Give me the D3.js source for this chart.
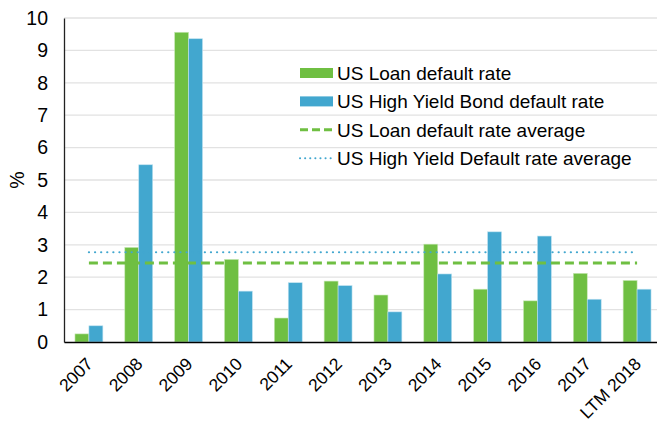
<!DOCTYPE html>
<html>
<head>
<meta charset="utf-8">
<script src="https://cdnjs.cloudflare.com/ajax/libs/d3/7.8.5/d3.min.js"></script>
<style>
    body { margin: 0; background: #fff; }
    svg { display: block; font-family: "Liberation Sans", Arial, sans-serif; }
</style>
</head>
<body>
<div class="graph"></div>
<script>
/* Chart data */
const years = ['2007', '2008', '2009', '2010', '2011', '2012', '2013', '2014', '2015', '2016', '2017', 'LTM 2018'];
const loan_rate = [0.25, 2.92, 9.56, 2.55, 0.74, 1.88, 1.45, 3.02, 1.63, 1.27, 2.12, 1.90];
const hy_rate = [0.50, 5.47, 9.36, 1.57, 1.83, 1.74, 0.93, 2.10, 3.40, 3.27, 1.32, 1.63];
const loan_avg = 2.44;
const hy_avg = 2.77;
const y_ticks = [0, 1, 2, 3, 4, 5, 6, 7, 8, 9, 10];

const legend_labels = [
    'US Loan default rate',
    'US High Yield Bond default rate',
    'US Loan default rate average',
    'US High Yield Default rate average'
];

/* Configuration variables */
const svg_dimensions = { width: 657, height: 425 };
const margin = { top: 18, left: 64, right: -5, bottom: 83 };
const green = '#6fbf42';
const blue = '#42a7cf';

let svg = d3.select('.graph')
    .append('svg')
        .attr('width', svg_dimensions.width)
        .attr('height', svg_dimensions.height);

let x_scale = d3.scaleBand()
    .domain(years)
    .range([margin.left, svg_dimensions.width - margin.right])
    .paddingInner(0.44)
    .paddingOuter(0.22);

let y_scale = d3.scaleLinear()
    .domain([0, 10])
    .range([svg_dimensions.height - margin.bottom, margin.top]);

let sub_scale = d3.scaleBand()
    .domain(['loan', 'hy'])
    .range([0, x_scale.bandwidth()]);

/* Gridlines */
svg.append('g')
    .selectAll('line')
    .data(y_ticks.slice(1)).enter().append('line')
        .attr('x1', margin.left)
        .attr('x2', svg_dimensions.width)
        .attr('y1', (d) => y_scale(d))
        .attr('y2', (d) => y_scale(d))
        .attr('stroke', '#e2e2e2')
        .attr('stroke-width', 1.3);

/* Bars */
let groups = svg.append('g')
    .selectAll('g')
    .data(years).enter().append('g')
        .attr('transform', (d) => 'translate(' + x_scale(d) + ',0)');

groups.append('rect')
    .attr('x', sub_scale('loan'))
    .attr('y', (d, i) => y_scale(loan_rate[i]))
    .attr('width', sub_scale.bandwidth())
    .attr('height', (d, i) => y_scale(0) - y_scale(loan_rate[i]))
    .attr('fill', green)
    .attr('stroke', '#c9e8b8')
    .attr('stroke-width', 0.6);

groups.append('rect')
    .attr('x', sub_scale('hy'))
    .attr('y', (d, i) => y_scale(hy_rate[i]))
    .attr('width', sub_scale.bandwidth())
    .attr('height', (d, i) => y_scale(0) - y_scale(hy_rate[i]))
    .attr('fill', blue)
    .attr('stroke', '#bfe2f0')
    .attr('stroke-width', 0.6);

/* Average lines */
const first_center = x_scale(years[0]) + x_scale.bandwidth() / 2;
const last_center = x_scale(years[years.length - 1]) + x_scale.bandwidth() / 2;

svg.append('line')
    .attr('x1', first_center).attr('x2', last_center)
    .attr('y1', y_scale(hy_avg)).attr('y2', y_scale(hy_avg))
    .attr('stroke', blue)
    .attr('stroke-width', 2.2)
    .attr('stroke-linecap', 'round')
    .attr('stroke-dasharray', '0.1,6');

svg.append('line')
    .attr('x1', first_center).attr('x2', last_center)
    .attr('y1', y_scale(loan_avg)).attr('y2', y_scale(loan_avg))
    .attr('stroke', green)
    .attr('stroke-width', 3)
    .attr('stroke-dasharray', '9,5');

/* Axes */
let y_axis = d3.axisLeft(y_scale).tickValues(y_ticks).tickSize(0).tickPadding(16);
let y_g = svg.append('g')
    .attr('transform', 'translate(' + margin.left + ',0)')
    .call(y_axis);
y_g.select('.domain').attr('stroke', '#222').attr('stroke-width', 1.3);
y_g.selectAll('text').attr('font-size', '19.5px').attr('fill', '#000').attr('font-family', 'Liberation Sans, Arial, sans-serif');

let x_axis = d3.axisBottom(x_scale).tickSize(0).tickPadding(0);
let x_g = svg.append('g')
    .attr('transform', 'translate(0,' + y_scale(0) + ')')
    .call(x_axis);
x_g.select('.domain').attr('stroke', '#000').attr('stroke-width', 1.6);
x_g.selectAll('text')
    .attr('font-size', '17.5px')
    .attr('fill', '#000')
    .attr('font-family', 'Liberation Sans, Arial, sans-serif')
    .attr('text-anchor', 'end')
    .attr('dy', '0')
    .attr('transform', 'translate(5,23) rotate(-45)');

svg.append('text')
    .attr('transform', 'rotate(-90)')
    .attr('x', -y_scale(5))
    .attr('y', 24)
    .attr('text-anchor', 'middle')
    .attr('font-size', '19.5px')
    .text('%');

/* Legend */
let legend = svg.append('g').attr('transform', 'translate(300,73)');
let legend_rows = legend.selectAll('g')
    .data(legend_labels).enter().append('g')
        .attr('transform', (d, i) => 'translate(0,' + (i * 28.4) + ')');

legend_rows.filter((d, i) => i < 2).append('rect')
    .attr('x', 0).attr('y', -5)
    .attr('width', 33).attr('height', 10)
    .attr('fill', (d, i) => i == 0 ? green : blue);

legend_rows.filter((d, i) => i == 2).append('line')
    .attr('x1', 0).attr('x2', 33)
    .attr('stroke', green).attr('stroke-width', 3)
    .attr('stroke-dasharray', '8,4');

legend_rows.filter((d, i) => i == 3).append('line')
    .attr('x1', 0).attr('x2', 33)
    .attr('stroke', blue).attr('stroke-width', 2)
    .attr('stroke-linecap', 'round')
    .attr('stroke-dasharray', '0.1,5');

legend_rows.append('text')
    .attr('x', 37)
    .attr('y', 7)
    .attr('font-size', '19px')
    .text((d) => d);
</script>
</body>
</html>
